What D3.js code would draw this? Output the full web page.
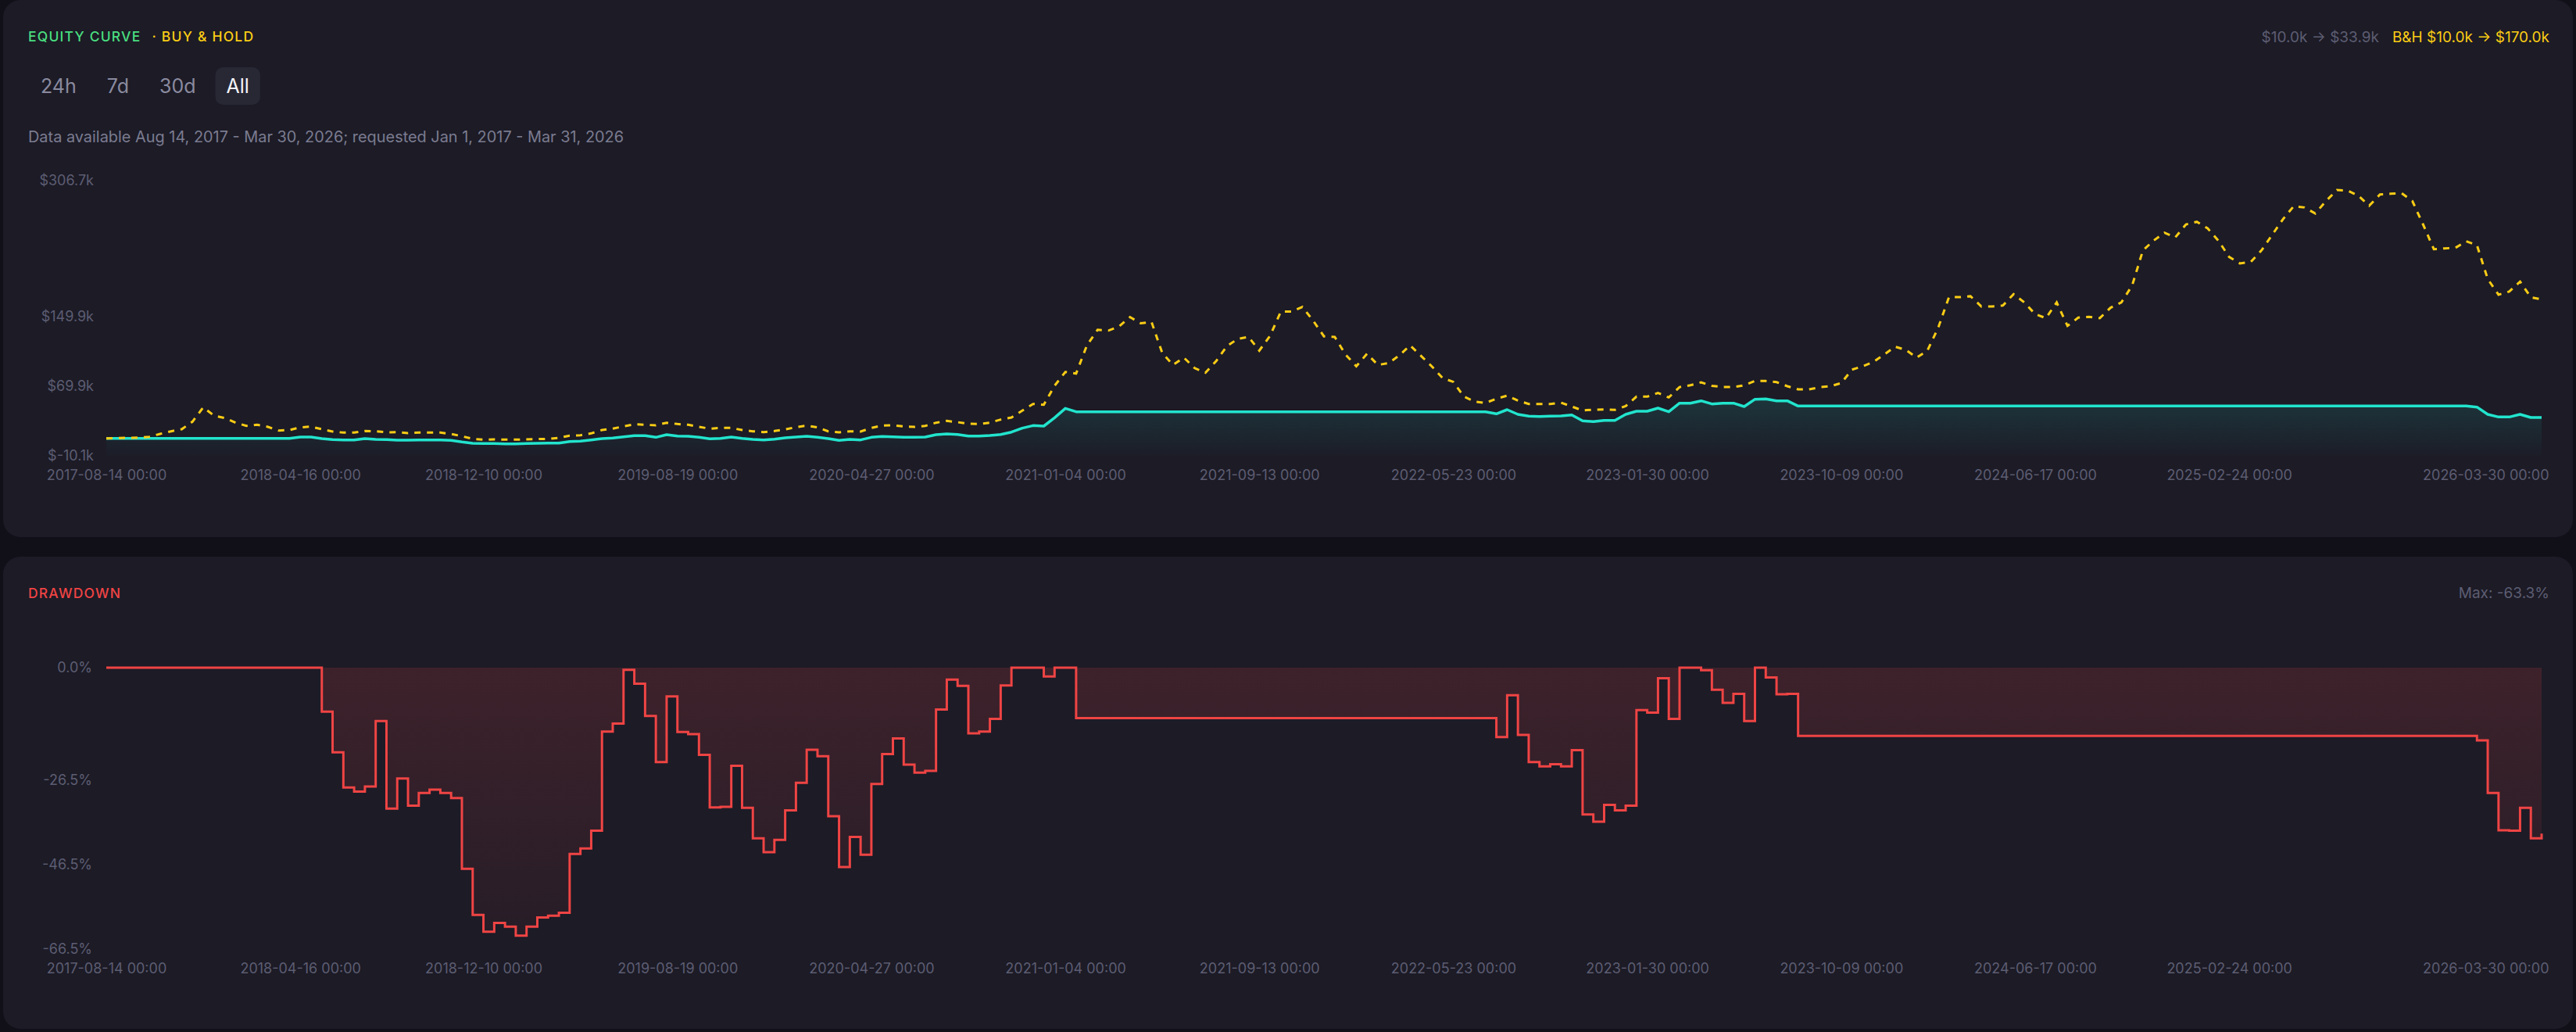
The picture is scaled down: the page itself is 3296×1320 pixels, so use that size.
<!DOCTYPE html>
<html>
<head>
<meta charset="utf-8">
<script src="https://cdn.jsdelivr.net/npm/d3@7/dist/d3.min.js"></script>
<style>
  html, body { margin: 0; padding: 0; background: #111019; }
  svg { display: block; font-family: Inter, "Noto Sans", sans-serif; }
</style>
</head>
<body>
<script>
"use strict";

// ---- data (one point every ~2 weeks, 2017-08-14 .. 2026-03-30) ----
const xTickIdx = [0, 18, 35, 53, 71, 89, 107, 125, 143, 161, 179, 197, 226]
const xTickLabels = [
  "2017-08-14 00:00", "2018-04-16 00:00", "2018-12-10 00:00", "2019-08-19 00:00",
  "2020-04-27 00:00", "2021-01-04 00:00", "2021-09-13 00:00", "2022-05-23 00:00",
  "2023-01-30 00:00", "2023-10-09 00:00", "2024-06-17 00:00", "2025-02-24 00:00",
  "2026-03-30 00:00"
]
const equityTicks = [-10.1, 69.9, 149.9, 306.7]
const drawdownTicks = [0, -26.5, -46.5, -66.5]
const ranges = ["24h", "7d", "30d", "All"]

// equity curve, $k
const equity = [
  10.0, 10.0, 10.0, 10.0, 10.0, 10.0, 10.0, 10.0, 10.0, 10.0,
  10.0, 10.0, 10.0, 10.0, 10.0, 10.0, 10.0, 10.0, 11.5, 11.5,
  9.7, 8.5, 8.2, 8.2, 9.7, 8.8, 8.5, 7.9, 7.9, 8.2,
  8.2, 8.2, 7.6, 5.8, 4.3, 4.0, 4.0, 3.7, 3.7, 4.0,
  4.3, 4.6, 4.6, 6.4, 6.7, 8.2, 9.7, 10.3, 11.8, 13.0,
  13.0, 11.2, 14.2, 12.7, 12.4, 11.2, 9.4, 10.0, 11.5, 10.0,
  8.8, 8.2, 9.1, 10.6, 11.5, 12.4, 11.2, 9.7, 7.6, 8.8,
  8.2, 11.2, 12.1, 11.8, 11.2, 11.2, 11.5, 14.2, 15.1, 14.5,
  12.7, 12.7, 13.3, 14.5, 17.2, 21.7, 24.7, 24.1, 33.7, 44.5,
  40.6, 40.6, 40.6, 40.6, 40.6, 40.6, 40.6, 40.6, 40.6, 40.6,
  40.6, 40.6, 40.6, 40.6, 40.6, 40.6, 40.6, 40.6, 40.6, 40.6,
  40.6, 40.6, 40.6, 40.6, 40.6, 40.6, 40.6, 40.6, 40.6, 40.6,
  40.6, 40.6, 40.6, 40.6, 40.6, 40.6, 40.6, 40.6, 40.6, 38.2,
  43.0, 37.6, 35.5, 35.2, 35.5, 35.8, 37.0, 30.1, 29.2, 30.7,
  30.7, 37.6, 41.2, 41.2, 44.8, 40.6, 50.5, 50.5, 53.2, 49.6,
  50.5, 50.5, 46.6, 55.0, 55.3, 53.2, 53.2, 47.2, 47.2, 47.2,
  47.2, 47.2, 47.2, 47.2, 47.2, 47.2, 47.2, 47.2, 47.2, 47.2,
  47.2, 47.2, 47.2, 47.2, 47.2, 47.2, 47.2, 47.2, 47.2, 47.2,
  47.2, 47.2, 47.2, 47.2, 47.2, 47.2, 47.2, 47.2, 47.2, 47.2,
  47.2, 47.2, 47.2, 47.2, 47.2, 47.2, 47.2, 47.2, 47.2, 47.2,
  47.2, 47.2, 47.2, 47.2, 47.2, 47.2, 47.2, 47.2, 47.2, 47.2,
  47.2, 47.2, 47.2, 47.2, 47.2, 47.2, 47.2, 47.2, 47.2, 47.2,
  46.0, 37.6, 34.6, 34.6, 37.6, 34.0, 33.9
]

// buy & hold, $k
const buyHold = [
  10.0, 10.3, 10.6, 10.9, 11.8, 15.1, 18.1, 20.5, 29.2, 45.7,
  36.1, 33.4, 28.0, 24.4, 25.6, 23.2, 19.0, 19.6, 22.6, 23.5,
  20.5, 17.8, 16.6, 16.6, 18.4, 18.1, 16.9, 17.2, 16.0, 16.6,
  16.6, 16.6, 15.1, 12.4, 9.4, 8.5, 8.8, 8.5, 8.5, 8.8,
  9.1, 9.4, 10.6, 13.0, 13.6, 15.7, 19.6, 21.1, 23.8, 26.2,
  25.6, 25.0, 28.0, 26.5, 25.6, 23.2, 21.1, 22.0, 22.0, 19.6,
  18.1, 17.2, 18.4, 20.2, 22.9, 24.7, 22.6, 18.1, 16.9, 18.1,
  17.8, 22.0, 24.7, 25.0, 23.8, 23.2, 24.4, 28.0, 30.1, 28.6,
  26.8, 26.5, 28.0, 31.6, 34.0, 41.8, 49.6, 48.7, 70.5, 86.4,
  84.6, 117.0, 135.0, 134.1, 138.9, 149.6, 142.4, 143.9, 108.0, 94.5,
  102.9, 90.9, 85.5, 99.0, 116.1, 124.5, 126.8, 111.0, 128.1, 155.9,
  155.9, 161.3, 145.4, 127.4, 126.8, 106.5, 93.0, 107.4, 94.5, 96.6,
  105.6, 117.0, 105.0, 93.0, 79.5, 75.0, 58.0, 52.3, 50.8, 55.6,
  59.2, 53.5, 49.6, 49.6, 49.6, 51.1, 46.6, 42.1, 43.0, 43.3,
  42.7, 47.2, 58.0, 58.0, 62.2, 57.1, 69.0, 71.1, 74.4, 70.5,
  69.0, 69.0, 71.1, 76.0, 76.0, 74.7, 70.0, 66.4, 66.4, 68.8,
  70.0, 73.6, 89.1, 93.0, 98.1, 106.5, 115.5, 111.9, 102.9, 111.0,
  137.2, 172.5, 172.5, 173.6, 161.9, 161.9, 162.8, 176.0, 166.4, 153.0,
  148.4, 166.4, 139.5, 149.0, 149.9, 148.4, 160.4, 166.4, 185.9, 226.3,
  237.7, 246.7, 241.3, 256.3, 259.3, 251.8, 237.7, 218.9, 211.4, 212.9,
  226.3, 244.3, 262.3, 277.3, 275.8, 268.9, 283.3, 295.8, 295.2, 289.2,
  277.8, 290.7, 291.6, 292.2, 283.3, 256.3, 227.8, 228.7, 229.3, 236.8,
  232.3, 193.4, 175.4, 179.0, 190.4, 172.4, 170.0
]

// drawdown, %
const drawdown = [
  0, 0, 0, 0, 0, 0, 0, 0, 0, 0,
  0, 0, 0, 0, 0, 0, 0, 0, 0, 0,
  -10.4, -20.0, -28.3, -29.3, -28.1, -12.6, -33.3, -26.2, -32.6, -29.6,
  -28.8, -29.6, -30.8, -47.5, -58.4, -62.4, -60.3, -61.2, -63.3, -61.2,
  -59.0, -58.6, -57.9, -44.0, -42.7, -38.5, -15.1, -13.2, -0.5, -3.8,
  -11.4, -22.3, -6.8, -15.2, -15.7, -20.6, -33.0, -32.9, -23.2, -33.1,
  -40.3, -43.6, -40.7, -33.7, -27.2, -19.4, -20.9, -35.1, -47.1, -40.0,
  -44.2, -27.5, -20.4, -16.7, -22.9, -24.8, -24.4, -9.9, -2.8, -4.3,
  -15.5, -15.1, -12.1, -4.2, 0, 0, 0, -2.1, 0, 0,
  -11.9, -11.9, -11.9, -11.9, -11.9, -11.9, -11.9, -11.9, -11.9, -11.9,
  -11.9, -11.9, -11.9, -11.9, -11.9, -11.9, -11.9, -11.9, -11.9, -11.9,
  -11.9, -11.9, -11.9, -11.9, -11.9, -11.9, -11.9, -11.9, -11.9, -11.9,
  -11.9, -11.9, -11.9, -11.9, -11.9, -11.9, -11.9, -11.9, -11.9, -16.4,
  -6.5, -15.9, -22.3, -23.3, -22.8, -23.3, -19.5, -34.7, -36.4, -32.4,
  -33.7, -32.6, -10.0, -10.6, -2.5, -12.1, 0, 0, -0.6, -5.2,
  -8.3, -6.2, -12.6, 0, -2.3, -6.3, -6.2, -16.1, -16.1, -16.1,
  -16.1, -16.1, -16.1, -16.1, -16.1, -16.1, -16.1, -16.1, -16.1, -16.1,
  -16.1, -16.1, -16.1, -16.1, -16.1, -16.1, -16.1, -16.1, -16.1, -16.1,
  -16.1, -16.1, -16.1, -16.1, -16.1, -16.1, -16.1, -16.1, -16.1, -16.1,
  -16.1, -16.1, -16.1, -16.1, -16.1, -16.1, -16.1, -16.1, -16.1, -16.1,
  -16.1, -16.1, -16.1, -16.1, -16.1, -16.1, -16.1, -16.1, -16.1, -16.1,
  -16.1, -16.1, -16.1, -16.1, -16.1, -16.1, -16.1, -16.1, -16.1, -16.1,
  -17.2, -29.6, -38.4, -38.5, -33.1, -40.3, -39.2
]

// ---- page ----
const W = 3296, H = 1320
const c = {
  panel: "#1c1b26",
  axis: "#5d5d72",
  muted: "#7b7b90",
  green: "#4ade80",
  yellow: "#facc15",
  cyan: "#22e4cd",
  red: "#ef4444"
}

const svg = d3.select("body").append("svg")
  .attr("width", W)
  .attr("height", H)

const defs = svg.append("defs")

svg.append("rect").attr("x", 4).attr("y", 0).attr("width", 3288).attr("height", 687)
  .attr("rx", 22).attr("fill", c.panel)
svg.append("rect").attr("x", 4).attr("y", 712).attr("width", 3288).attr("height", 604)
  .attr("rx", 22).attr("fill", c.panel)

const x = d3.scaleLinear().domain([0, equity.length - 1]).range([136, 3252])
const yEq = d3.scaleLinear().domain([-10.1, 306.7]).range([583, 231])
const yDd = d3.scaleLinear().domain([-66.5, 0]).range([1214, 854])

// ---- header of equity panel ----
const title = svg.append("text").attr("x", 36).attr("y", 53)
  .attr("font-size", 17.5).attr("font-weight", 500).attr("letter-spacing", 1.2)
title.append("tspan").attr("fill", c.green).text("EQUITY CURVE")
title.append("tspan").attr("fill", c.yellow).attr("dx", 14).text("· BUY & HOLD")

const bh = svg.append("text").attr("x", 3262).attr("y", 54)
  .attr("text-anchor", "end").attr("font-size", 19).attr("fill", c.yellow)
  .text("B&H $10.0k → $170.0k")
const bhW = bh.node().getComputedTextLength()
svg.append("text").attr("x", 3262 - bhW - 17).attr("y", 54)
  .attr("text-anchor", "end").attr("font-size", 19).attr("fill", c.axis)
  .text("$10.0k → $33.9k")

// range buttons
let bx = 38
ranges.forEach(function (r) {
  const active = r === "All"
  const g = svg.append("g")
  const bg = g.append("rect").attr("y", 86).attr("height", 48).attr("rx", 10)
    .attr("fill", active ? "#282835" : "none")
  const t = g.append("text").attr("y", 119).attr("font-size", 25)
    .attr("fill", active ? "#f4f4f8" : "#8a8a9f").text(r)
  const w = t.node().getComputedTextLength()
  t.attr("x", bx + 14)
  bg.attr("x", bx).attr("width", w + 28)
  bx += w + 28 + 11
})

svg.append("text").attr("x", 36).attr("y", 182).attr("font-size", 19.9).attr("fill", c.muted)
  .text("Data available Aug 14, 2017 - Mar 30, 2026; requested Jan 1, 2017 - Mar 31, 2026")

// ---- equity chart ----
const eqGrad = defs.append("linearGradient").attr("id", "eqFill")
  .attr("gradientUnits", "userSpaceOnUse")
  .attr("x1", 0).attr("x2", 0).attr("y1", yEq(55)).attr("y2", yEq(-10.1))
eqGrad.append("stop").attr("offset", 0).attr("stop-color", c.cyan).attr("stop-opacity", 0.13)
eqGrad.append("stop").attr("offset", 1).attr("stop-color", c.cyan).attr("stop-opacity", 0.01)

svg.append("path")
  .datum(equity)
  .attr("fill", "url(#eqFill)")
  .attr("d", d3.area()
    .x((d, i) => x(i))
    .y0(yEq(-10.1))
    .y1(d => yEq(d)))

svg.append("path")
  .datum(equity)
  .attr("fill", "none")
  .attr("stroke", c.cyan)
  .attr("stroke-width", 3.5)
  .attr("stroke-linejoin", "round")
  .attr("d", d3.line().x((d, i) => x(i)).y(d => yEq(d)))

svg.append("path")
  .datum(buyHold)
  .attr("fill", "none")
  .attr("stroke", c.yellow)
  .attr("stroke-width", 3)
  .attr("stroke-dasharray", "8 8")
  .attr("d", d3.line().x((d, i) => x(i)).y(d => yEq(d)))

// ---- axes ----
function styleAxis(g) {
  g.select(".domain").remove()
  g.selectAll("text").attr("fill", c.axis).attr("font-size", 18)
    .attr("font-family", "Inter, 'Noto Sans', sans-serif")
}

function clampLast(g) {
  // last date label is pulled in so it stays inside the card
  const t = g.selectAll(".tick text").filter((d, i, n) => i === n.length - 1)
  t.attr("text-anchor", "end").attr("x", 9)
}

const xAxis = d3.axisBottom(x)
  .tickValues(xTickIdx)
  .tickFormat((d, i) => xTickLabels[i])
  .tickSize(0)
  .tickPadding(18)

svg.append("g").attr("transform", "translate(0,583)").call(xAxis).call(styleAxis).call(clampLast)
svg.append("g").attr("transform", "translate(0,1214)").call(xAxis).call(styleAxis).call(clampLast)

svg.append("g").attr("transform", "translate(136,0)")
  .call(d3.axisLeft(yEq).tickValues(equityTicks).tickFormat(d => "$" + d.toFixed(1) + "k")
    .tickSize(0).tickPadding(16))
  .call(styleAxis)

svg.append("g").attr("transform", "translate(136,0)")
  .call(d3.axisLeft(yDd).tickValues(drawdownTicks).tickFormat(d => d.toFixed(1) + "%")
    .tickSize(0).tickPadding(18))
  .call(styleAxis)

// ---- drawdown panel ----
svg.append("text").attr("x", 36).attr("y", 765)
  .attr("font-size", 17.5).attr("font-weight", 500).attr("letter-spacing", 1.2)
  .attr("fill", c.red).text("DRAWDOWN")

svg.append("text").attr("x", 3262).attr("y", 765).attr("text-anchor", "end")
  .attr("font-size", 19).attr("fill", c.axis)
  .text("Max: " + d3.min(drawdown).toFixed(1) + "%")

const ddGrad = defs.append("linearGradient").attr("id", "ddFill")
  .attr("gradientUnits", "userSpaceOnUse")
  .attr("x1", 0).attr("x2", 0).attr("y1", yDd(0)).attr("y2", yDd(d3.min(drawdown)))
ddGrad.append("stop").attr("offset", 0).attr("stop-color", c.red).attr("stop-opacity", 0.16)
ddGrad.append("stop").attr("offset", 1).attr("stop-color", c.red).attr("stop-opacity", 0.05)

svg.append("path")
  .datum(drawdown)
  .attr("fill", "url(#ddFill)")
  .attr("d", d3.area()
    .curve(d3.curveStepAfter)
    .x((d, i) => x(i))
    .y0(yDd(0))
    .y1(d => yDd(d)))

svg.append("path")
  .datum(drawdown)
  .attr("fill", "none")
  .attr("stroke", c.red)
  .attr("stroke-width", 3)
  .attr("d", d3.line()
    .curve(d3.curveStepAfter)
    .x((d, i) => x(i))
    .y(d => yDd(d)))
</script>
</body>
</html>
